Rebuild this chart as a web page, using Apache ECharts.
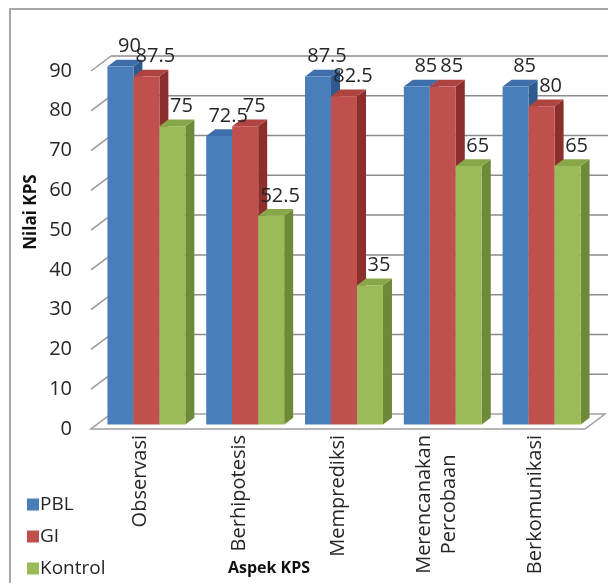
<!DOCTYPE html>
<html>
<head>
<meta charset="utf-8">
<script src="https://cdn.jsdelivr.net/npm/echarts@6/dist/echarts.min.js"></script>
<style>
  html, body { margin: 0; padding: 0; background: #fff; }
  #main { width: 608px; height: 583px; }
</style>
</head>
<body>
<div id="main"></div>
<script>
var categories = ['Observasi', 'Berhipotesis', 'Memprediksi', 'Merencanakan\nPercobaan', 'Berkomunikasi'];
var seriesNames = ['PBL', 'GI', 'Kontrol'];
var pbl = [90, 72.5, 87.5, 85, 85];
var gi = [87.5, 75, 82.5, 85, 80];
var kontrol = [75, 52.5, 35, 65, 65];
var yTicks = [0, 10, 20, 30, 40, 50, 60, 70, 80, 90];

// front / side / top colours for each series
var faceColors = [
  ['#4A7EBB', '#2F5A8F', '#3E6FAA'],
  ['#C0504D', '#8B2E2C', '#AE4340'],
  ['#9BBB59', '#6E8A38', '#88A748']
];
var depth = [20, -15];    // depth of the 3d box
var barFront = 0.3, barBack = 0.75;
var font = 'Open Sans';

var chart = echarts.init(document.getElementById('main'));

// back wall gridlines, side ticks and floor
function renderFrame(params, api) {
  var cs = params.coordSys;
  var v = api.value(0);
  var p = api.coord([0, v]);
  var y = p[1];
  var x0 = cs.x, x1 = cs.x + cs.width;
  var children = [];
  children.push({
    type: 'line',
    shape: { x1: x0, y1: y, x2: x0 + depth[0], y2: y + depth[1] },
    style: { stroke: '#9a9a9a', lineWidth: 1.5 }
  });
  if (v === 0) {
    children.push({
      type: 'polygon',
      shape: { points: [[x0, y], [x1, y], [x1 + depth[0], y + depth[1]], [x0 + depth[0], y + depth[1]]] },
      style: { fill: '#fff', stroke: '#a0a0a0', lineWidth: 1.5 }
    });
  } else {
    children.push({
      type: 'line',
      shape: { x1: x0 + depth[0], y1: y + depth[1], x2: x1 + depth[0] + 6, y2: y + depth[1] },
      style: { stroke: '#8c8c8c', lineWidth: 1.5 }
    });
  }
  return { type: 'group', children: children };
}

function makeBarRender(s) {
  return function (params, api) {
    var i = api.value(0);
    var v = api.value(1);
    var base = api.coord([i, 0]);
    var top = api.coord([i, v]);
    var band = api.size([1, 0])[0];
    var w = band * 0.263;
    var left = base[0] - 1.5 * w + s * w;
    var fx = depth[0] * barFront, fy = depth[1] * barFront;
    var bx = depth[0] * barBack, by = depth[1] * barBack;
    var xl = left + fx, xr = left + w + fx;
    var yb = base[1] + fy, yt = top[1] + fy;
    var dx = bx - fx, dy = by - fy;
    var c = faceColors[s];
    return {
      type: 'group',
      children: [
        {
          type: 'polygon',
          shape: { points: [[xr, yb], [xr + dx, yb + dy], [xr + dx, yt + dy], [xr, yt]] },
          style: { fill: c[1] }
        },
        {
          type: 'polygon',
          shape: { points: [[xl, yt], [xr, yt], [xr + dx, yt + dy], [xl + dx, yt + dy]] },
          style: { fill: c[2] }
        },
        {
          type: 'rect',
          shape: { x: xl, y: yt, width: w, height: yb - yt },
          style: { fill: c[0] }
        },
        {
          type: 'text',
          z2: 100,
          x: (xl + xr) / 2 + 9,
          y: yt + dy - 13,
          style: {
            text: String(v),
            fontFamily: font,
            fontSize: 20,
            fill: '#262626',
            align: 'center',
            verticalAlign: 'middle'
          }
        }
      ]
    };
  };
}

var allValues = [pbl, gi, kontrol];
var barSeries = allValues.map(function (vals, s) {
  return {
    name: seriesNames[s],
    type: 'custom',
    renderItem: makeBarRender(s),
    itemStyle: { color: faceColors[s][0] },
    encode: { x: 0, y: 1 },
    data: vals.map(function (v, i) { return [i, v]; })
  };
});

var option = {
  animation: false,
  legend: {
    orient: 'vertical',
    left: 27,
    top: 495,
    padding: 0,
    itemWidth: 12,
    itemHeight: 12,
    itemGap: 13,
    icon: 'rect',
    data: seriesNames,
    textStyle: { fontFamily: font, fontSize: 19, color: '#262626', padding: [0, 0, 0, -4] }
  },
  grid: { left: 91, right: 23, top: 71, bottom: 154 },
  xAxis: {
    type: 'category',
    data: categories,
    axisLine: { show: false },
    axisTick: { show: false },
    axisLabel: {
      interval: 0,
      rotate: 90,
      margin: 6,
      formatter: function (v) {
        return v.split('\n').map(function (s) { return '{c|' + s + '}'; }).join('\n');
      },
      rich: {
        c: { align: 'center', fontFamily: font, fontSize: 20, color: '#262626', lineHeight: 25 }
      }
    }
  },
  yAxis: {
    type: 'value',
    min: 0,
    max: 90,
    interval: 10,
    axisLine: { show: false },
    axisTick: { show: false },
    splitLine: { show: false },
    axisLabel: { margin: 19, fontFamily: font, fontSize: 20, color: '#262626' }
  },
  graphic: [
    {
      type: 'rect',
      silent: true,
      z: -10,
      shape: { x: 10, y: 9, width: 640, height: 640 },
      style: { fill: 'none', stroke: '#8c8c8c', lineWidth: 1.5 }
    },
    {
      type: 'text',
      x: 31,
      y: 212,
      rotation: Math.PI / 2,
      style: {
        text: 'Nilai KPS',
        fontFamily: font,
        fontWeight: 'bold',
        fontSize: 17,
        fill: '#111',
        align: 'center',
        verticalAlign: 'middle'
      }
    },
    {
      type: 'text',
      x: 269,
      y: 568,
      style: {
        text: 'Aspek KPS',
        fontFamily: font,
        fontWeight: 'bold',
        fontSize: 16,
        fill: '#111',
        align: 'center',
        verticalAlign: 'middle'
      }
    }
  ],
  series: [
    {
      type: 'custom',
      silent: true,
      renderItem: renderFrame,
      encode: { y: 0 },
      data: yTicks.map(function (v) { return [v]; })
    }
  ].concat(barSeries)
};

chart.setOption(option);
</script>
</body>
</html>
